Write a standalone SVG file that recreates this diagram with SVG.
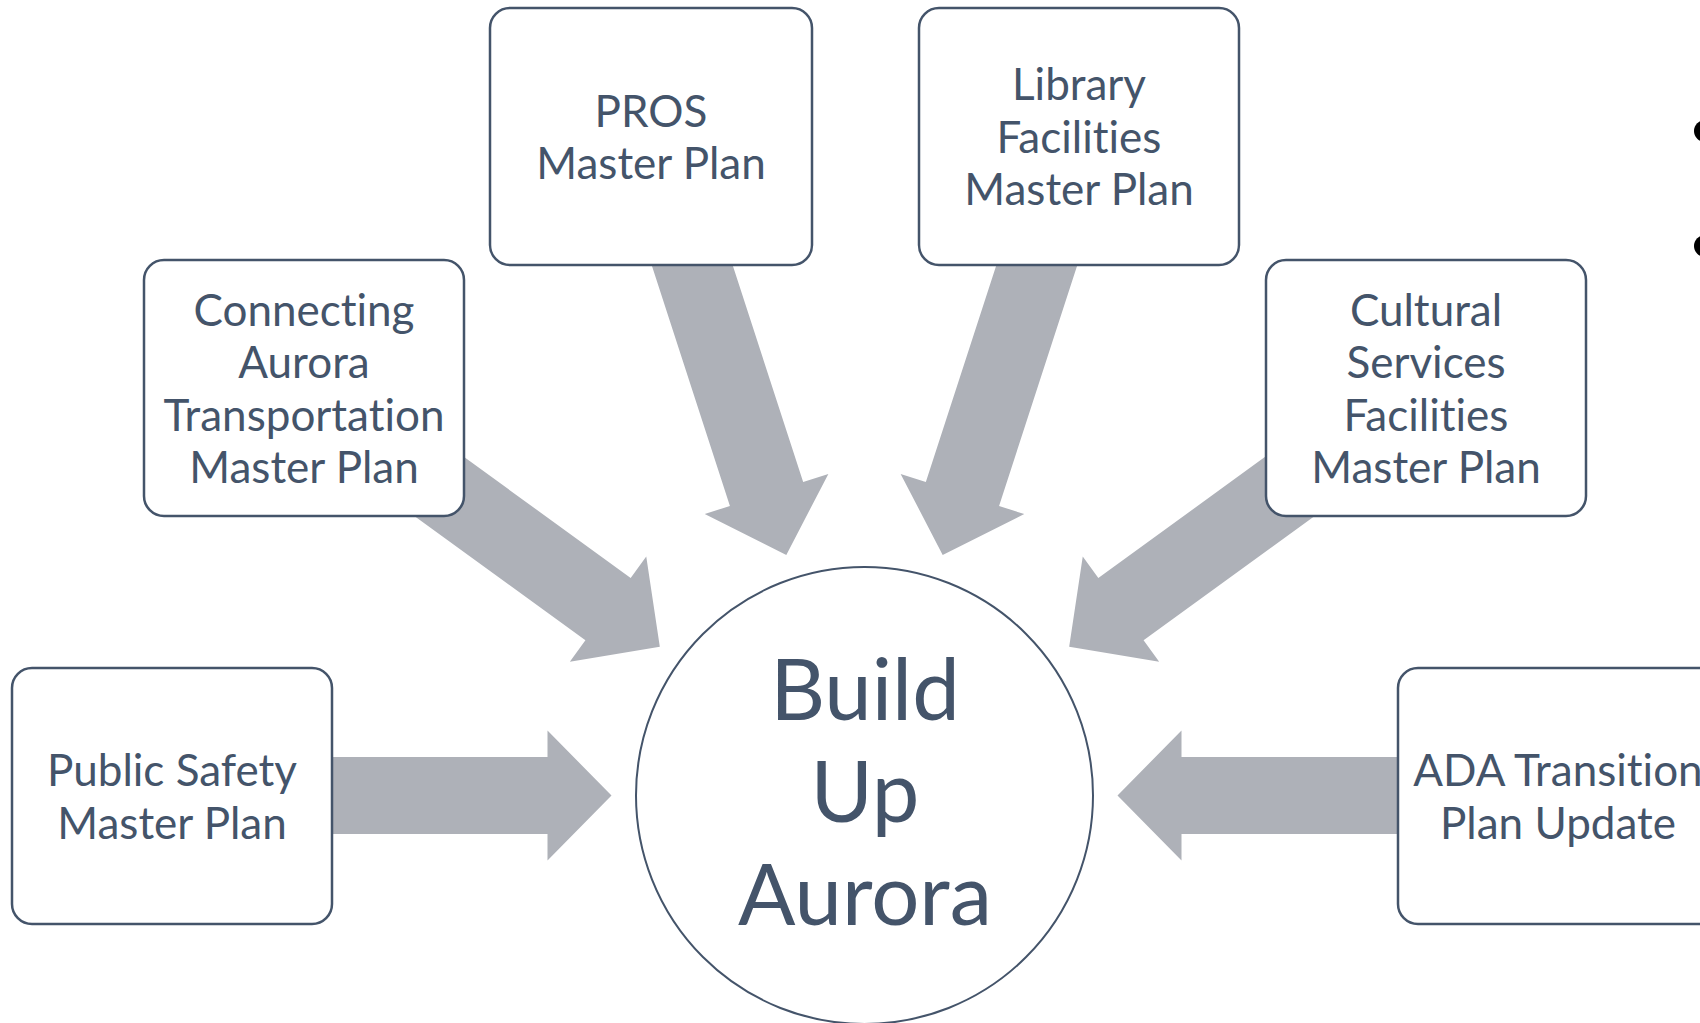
<svg xmlns="http://www.w3.org/2000/svg" xmlns:xlink="http://www.w3.org/1999/xlink" width="1700" height="1023" viewBox="0 0 1700 1023">
<style>
.box{fill:#FFFFFF;stroke:#44546A;stroke-width:2.5}
.arr{fill:#AEB1B8}
.t{font-family:Lato,"Liberation Sans",sans-serif;font-size:44px;fill:#44546A;text-anchor:middle;font-variant-ligatures:none}
.big{font-family:Lato,"Liberation Sans",sans-serif;font-size:85px;fill:#44546A;text-anchor:middle;font-variant-ligatures:none}
</style>
<defs>
<path id="arrow" d="M -253 0 L -317 -65 L -317 -38.5 L -620 -38.5 L -620 38.5 L -317 38.5 L -317 65 Z"/>
</defs>
<rect width="1700" height="1023" fill="#FFFFFF"/>
<g id="connectors" class="arr">
<use xlink:href="#arrow" transform="translate(864.5 795.5) rotate(0)"/>
<use xlink:href="#arrow" transform="translate(864.5 795.5) rotate(36)"/>
<use xlink:href="#arrow" transform="translate(864.5 795.5) rotate(72)"/>
<use xlink:href="#arrow" transform="translate(864.5 795.5) rotate(108)"/>
<use xlink:href="#arrow" transform="translate(864.5 795.5) rotate(144)"/>
<use xlink:href="#arrow" transform="translate(864.5 795.5) rotate(180)"/>
</g>
<g id="node-public-safety">
<rect class="box" x="12" y="668" width="320" height="256" rx="20"/>
<text class="t"><tspan x="172" y="786">Public Safety</tspan><tspan x="172" y="839">Master Plan</tspan></text>
</g>
<g id="node-connecting-aurora">
<rect class="box" x="144" y="260" width="320" height="256" rx="20"/>
<text class="t"><tspan x="304" y="326">Connecting</tspan><tspan x="304" y="378">Aurora</tspan><tspan x="304" y="431">Transportation</tspan><tspan x="304" y="483">Master Plan</tspan></text>
</g>
<g id="node-pros">
<rect class="box" x="490" y="8" width="322" height="257" rx="20"/>
<text class="t"><tspan x="651" y="127">PROS</tspan><tspan x="651" y="179">Master Plan</tspan></text>
</g>
<g id="node-library">
<rect class="box" x="919" y="8" width="320" height="257" rx="20"/>
<text class="t"><tspan x="1079" y="100">Library</tspan><tspan x="1079" y="153">Facilities</tspan><tspan x="1079" y="205">Master Plan</tspan></text>
</g>
<g id="node-cultural">
<rect class="box" x="1266" y="260" width="320" height="256" rx="20"/>
<text class="t"><tspan x="1426" y="326">Cultural</tspan><tspan x="1426" y="378">Services</tspan><tspan x="1426" y="431">Facilities</tspan><tspan x="1426" y="483">Master Plan</tspan></text>
</g>
<g id="node-ada">
<rect class="box" x="1398" y="668" width="320" height="256" rx="20"/>
<text class="t"><tspan x="1558" y="786">ADA Transition</tspan><tspan x="1558" y="839">Plan Update</tspan></text>
</g>
<g id="node-build-up-aurora">
<circle cx="864.5" cy="795.5" r="228.5" fill="#FFFFFF" stroke="#44546A" stroke-width="2"/>
<text class="big"><tspan x="865" y="720">Build</tspan><tspan x="865" y="822">Up</tspan><tspan x="865" y="925">Aurora</tspan></text>
</g>
<g id="bullets" fill="#000000">
<circle cx="1705" cy="131" r="11"/>
<circle cx="1705" cy="246" r="11"/>
</g>
</svg>
